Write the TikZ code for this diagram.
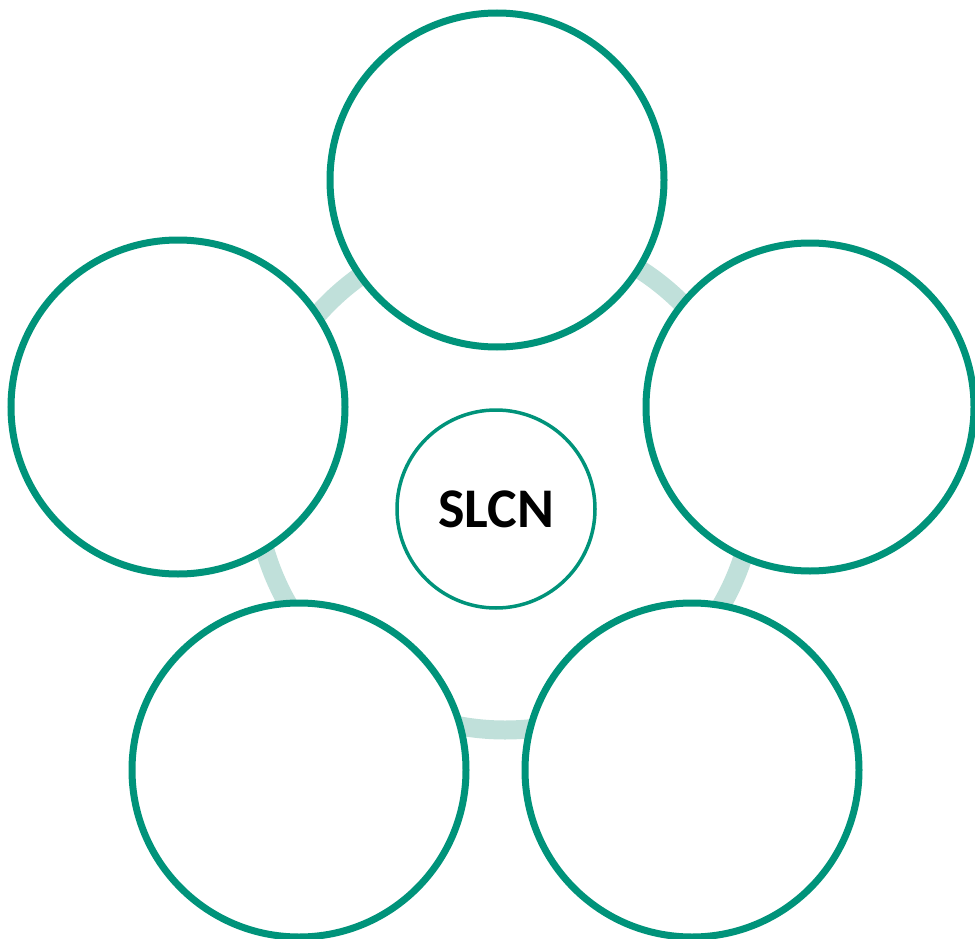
\documentclass[tikz,border=0pt]{standalone}
\usepackage{fontspec}
\setmainfont{Carlito}
\definecolor{RingGreen}{HTML}{00937A}
\definecolor{RingLight}{HTML}{C0E0DA}
\begin{document}
\begin{tikzpicture}[x=1pt,y=-1pt,
    petal/.style={circle,draw=RingGreen,line width=7pt,fill=white,minimum size=334pt,inner sep=0pt},
    hubnode/.style={circle,draw=RingGreen,line width=3.5pt,fill=white,minimum size=198pt,inner sep=0pt,
      font=\bfseries\fontsize{56}{60}\selectfont}]
  \useasboundingbox (0,0) rectangle (975,939);
  % ring behind the circles
  \coordinate (ringc) at (505,480);
  \draw[RingLight,line width=19pt] (ringc) circle (250pt);
  \node[petal] (topc) at (497,180) {};
  \node[petal] (leftc) at (178,407) {};
  \node[petal,minimum size=328pt] (rightc) at (810,407) {};
  \node[petal] (botl) at (299,770) {};
  \node[petal] (botr) at (692,770) {};
  \node[hubnode] (hub) at (496,509) {SLCN};
\end{tikzpicture}
\end{document}
